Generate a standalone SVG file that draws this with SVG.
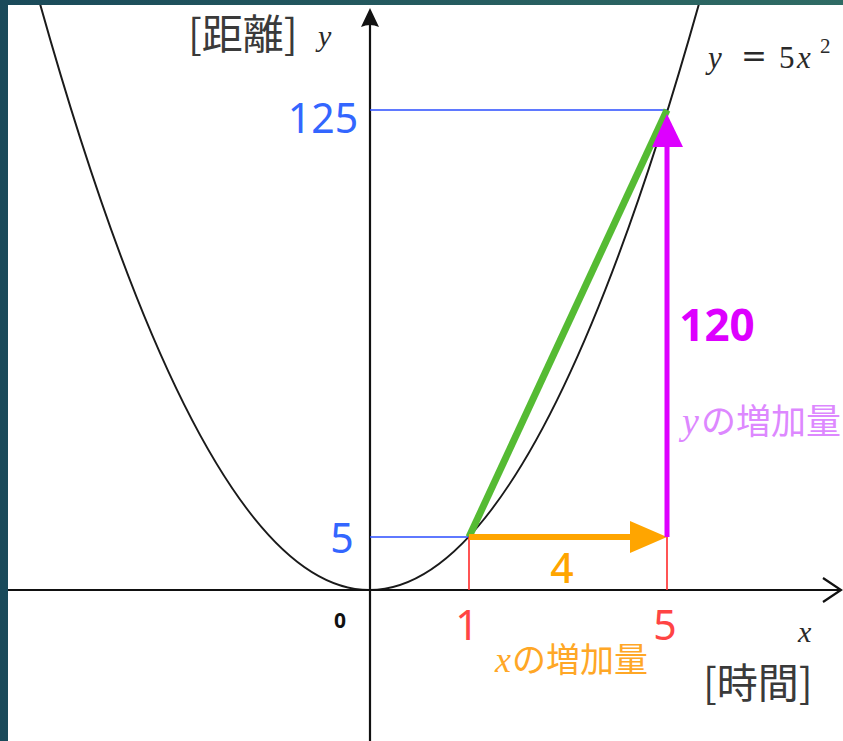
<svg xmlns="http://www.w3.org/2000/svg" width="843" height="741" viewBox="0 0 843 741">
  <defs>
    <linearGradient id="bg" x1="0" y1="0" x2="1" y2="0">
      <stop offset="0" stop-color="#1a4a5a"/>
      <stop offset="1" stop-color="#2f6b64"/>
    </linearGradient>
    <clipPath id="paper"><rect x="8" y="5" width="835" height="736"/></clipPath>
    <style>
      .axis{stroke:#111;stroke-width:2.2;fill:none}
      .guide-b{stroke:#2a4dff;stroke-width:1.6;fill:none}
      .guide-r{stroke:#ff2a2a;stroke-width:1.6;fill:none}
      .num{font-family:"Noto Sans","Roboto",sans-serif;text-anchor:middle}
      .math{font-family:"Liberation Serif","DejaVu Serif",serif;font-style:italic}
      .rm{font-family:"Liberation Serif","DejaVu Serif",serif;font-style:normal}
      .jp{font-family:"Noto Sans CJK JP","Noto Sans",sans-serif}
      .dark{fill:#2a2a2a}
    </style>
  </defs>
  <rect x="0" y="0" width="843" height="741" fill="url(#bg)"/>
  <rect x="8" y="5" width="835" height="736" fill="#ffffff"/>

  <g id="curve" clip-path="url(#paper)">
    <path d="M 29.5 -34.2 Q 369.5 1214.2 709.5 -34.2" fill="none" stroke="#1a1a1a" stroke-width="2"/>
  </g>

  <g id="axes" clip-path="url(#paper)">
    <line class="axis" x1="8" y1="590" x2="841" y2="590"/>
    <polyline class="axis" points="823,578 841,590 823,602"/>
    <line class="axis" x1="370" y1="741" x2="370" y2="20"/>
    <path d="M370 8 L379 27 Q370 23 361 27 Z" fill="#111"/>
  </g>

  <g id="guides">
    <line class="guide-b" x1="370" y1="110" x2="667" y2="110"/>
    <line class="guide-b" x1="370" y1="537" x2="469" y2="537"/>
    <line class="guide-r" x1="469" y1="537" x2="469" y2="590"/>
    <line class="guide-r" x1="667" y1="537" x2="667" y2="590"/>
  </g>

  <g id="connectors">
    <line id="secant" x1="469" y1="537" x2="667" y2="110" stroke="#55bb33" stroke-width="7"/>
    <line x1="469" y1="537" x2="634" y2="537" stroke="#ffa500" stroke-width="6"/>
    <polygon points="667,537 630,521 630,553" fill="#ffa500"/>
    <line x1="667" y1="537" x2="667" y2="143" stroke="#dd00ff" stroke-width="5"/>
    <polygon points="667,114 652,147 683,147" fill="#dd00ff"/>
  </g>

  <g id="labels">
    <text class="jp" x="188" y="49" font-size="41" fill="#3a3a3a">[距離]</text>
    <text class="math dark" x="318" y="46" font-size="30">y</text>
    <g id="formula">
      <text class="math dark" x="708" y="68" font-size="31">y</text>
      <text class="dark" x="741" y="67" font-size="31" font-family="DejaVu Serif, serif">=</text>
      <text class="rm dark" x="779" y="68" font-size="31">5</text>
      <text class="math dark" x="797" y="68" font-size="31">x</text>
      <text class="rm dark" x="820" y="53" font-size="21">2</text>
    </g>
    <text class="num" x="323" y="133" font-size="41" fill="#3366ff">125</text>
    <text class="num" x="342" y="553" font-size="41" fill="#3366ff">5</text>
    <text class="num" x="340" y="628" font-size="21" font-weight="bold" fill="#111">0</text>
    <text class="num" x="467" y="640" font-size="41" fill="#ff4444">1</text>
    <text class="num" x="665" y="640" font-size="41" fill="#ff4444">5</text>
    <text class="num" x="562" y="583" font-size="41" font-weight="500" fill="#ffa500">4</text>
    <text class="num" x="717" y="341" font-size="44" font-weight="bold" fill="#dd00ff">120</text>
    <text x="682" y="434" fill="#dd88ff"><tspan class="math" font-size="38">y</tspan><tspan class="jp" font-size="35" dx="2">の増加量</tspan></text>
    <text x="495" y="672" fill="#ffa726"><tspan class="math" font-size="36">x</tspan><tspan class="jp" font-size="34" dx="1">の増加量</tspan></text>
    <text class="math dark" x="798" y="642" font-size="30">x</text>
    <text class="jp" x="703" y="698" font-size="41" fill="#3a3a3a">[時間]</text>
  </g>
</svg>
